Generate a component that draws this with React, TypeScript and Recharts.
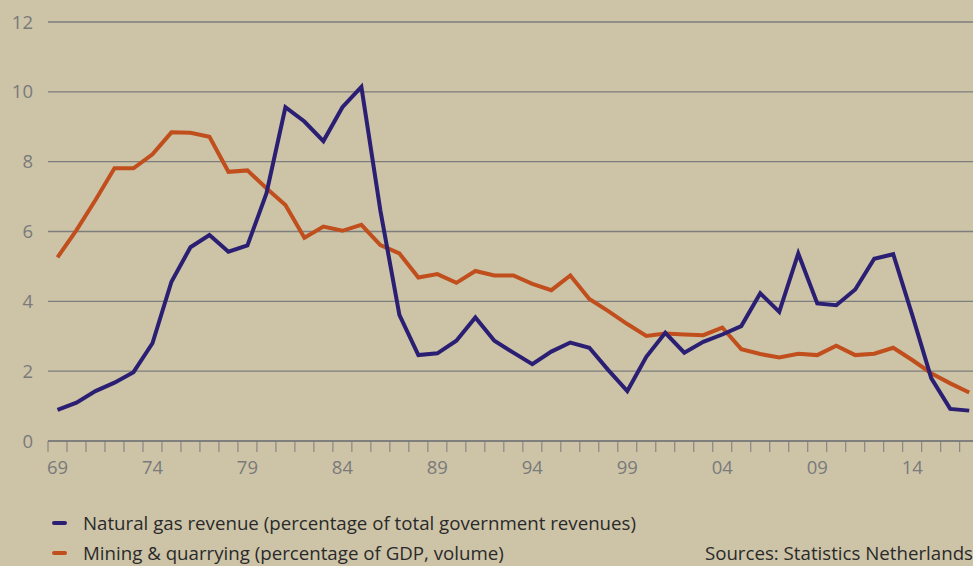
import { CartesianGrid, Line, LineChart, XAxis, YAxis } from "recharts";

// years 1969 - 2017
const years = [
  1969, 1970, 1971, 1972, 1973, 1974, 1975, 1976, 1977, 1978, 1979, 1980,
  1981, 1982, 1983, 1984, 1985, 1986, 1987, 1988, 1989, 1990, 1991, 1992,
  1993, 1994, 1995, 1996, 1997, 1998, 1999, 2000, 2001, 2002, 2003, 2004,
  2005, 2006, 2007, 2008, 2009, 2010, 2011, 2012, 2013, 2014, 2015, 2016,
  2017,
];

const gasRevenue = [
  0.89, 1.1, 1.43, 1.67, 1.97, 2.8, 4.56, 5.55, 5.9, 5.42, 5.6, 7.09,
  9.56, 9.15, 8.59, 9.56, 10.14, 6.6, 3.61, 2.46, 2.51, 2.87, 3.54, 2.87,
  2.53, 2.2, 2.56, 2.82, 2.67, 2.03, 1.43, 2.41, 3.1, 2.53, 2.84, 3.05,
  3.29, 4.23, 3.7, 5.37, 3.94, 3.89, 4.34, 5.22, 5.35, 3.61, 1.8, 0.92,
  0.87,
];

const mining = [
  5.26, 6.04, 6.9, 7.81, 7.81, 8.21, 8.84, 8.83, 8.71, 7.71, 7.75, 7.24,
  6.76, 5.82, 6.14, 6.02, 6.19, 5.61, 5.37, 4.68, 4.78, 4.53, 4.87, 4.74,
  4.74, 4.5, 4.32, 4.74, 4.07, 3.72, 3.35, 3.01, 3.08, 3.05, 3.03, 3.25,
  2.63, 2.49, 2.39, 2.5, 2.46, 2.73, 2.46, 2.5, 2.67, 2.32, 1.94, 1.65,
  1.39,
];

const labelYears = [1969, 1974, 1979, 1984, 1989, 1994, 1999, 2004, 2009, 2014];
const yTicks = [0, 2, 4, 6, 8, 10, 12];

const seriesNames = {
  gas: "Natural gas revenue (percentage of total government revenues)",
  mining: "Mining & quarrying (percentage of GDP, volume)",
};
const source = "Sources: Statistics Netherlands";

const BLUE = "#2b1f73";
const ORANGE = "#c14e1d";
const BG = "#cdc4a8";
const FONT = "'Open Sans', sans-serif";

const data = years.map((year, i) => ({
  year,
  gas: gasRevenue[i],
  mining: mining[i],
}));

// tick marks sit between years, labels on the years
const markTicks = years.map((y) => y - 0.5);

function XTick(props: any) {
  const { x, y, payload } = props;
  const v = payload.value as number;
  if (!Number.isInteger(v)) {
    return <line x1={x} x2={x} y1={y} y2={y + 11} stroke="#7a7a7a" strokeWidth={1} />;
  }
  return (
    <text
      x={x}
      y={y + 26}
      dy="0.355em"
      textAnchor="middle"
      fill="#7a7a7a"
      fontSize={18.5}
      fontFamily={FONT}
    >
      {String(v).slice(2)}
    </text>
  );
}

function LegendRow({ color, label, top }: { color: string; label: string; top: number }) {
  return (
    <div style={{ position: "absolute", left: 52, top, display: "flex", alignItems: "center" }}>
      <span
        style={{
          display: "inline-block",
          width: 15,
          height: 4,
          borderRadius: 2,
          background: color,
          marginRight: 16,
        }}
      />
      <span style={{ fontFamily: FONT, fontSize: 18.7, color: "#2a2a2a", whiteSpace: "nowrap" }}>
        {label}
      </span>
    </div>
  );
}

export default function App() {
  return (
    <div
      style={{
        position: "fixed",
        left: 0,
        top: 0,
        width: 973,
        height: 566,
        overflow: "hidden",
        background: BG,
      }}
    >
      <LineChart
        width={973}
        height={490}
        data={data}
        margin={{ top: 22, right: 0, bottom: 0, left: 0 }}
      >
        <CartesianGrid vertical={false} stroke="#7d7d7d" strokeWidth={1.3} />
        <XAxis
          dataKey="year"
          type="number"
          domain={[1968.5, 2017.2]}
          allowDataOverflow
          ticks={[...markTicks, ...labelYears]}
          interval={0}
          tick={<XTick />}
          tickLine={false}
          tickSize={0}
          tickMargin={0}
          axisLine={{ stroke: "#7a7a7a", strokeWidth: 1.3 }}
          height={49}
        />
        <YAxis
          width={48}
          domain={[0, 12]}
          ticks={yTicks}
          axisLine={false}
          tickLine={false}
          tickSize={0}
          tickMargin={15}
          tick={{ fill: "#7a7a7a", fontSize: 18.5, fontFamily: FONT }}
        />
        <Line
          dataKey="mining"
          stroke={ORANGE}
          strokeWidth={4}
          dot={false}
          type="linear"
          isAnimationActive={false}
        />
        <Line
          dataKey="gas"
          stroke={BLUE}
          strokeWidth={4}
          dot={false}
          type="linear"
          isAnimationActive={false}
        />
      </LineChart>
      <LegendRow color={BLUE} label={seriesNames.gas} top={510} />
      <LegendRow color={ORANGE} label={seriesNames.mining} top={540} />
      <div
        style={{
          position: "absolute",
          right: 0,
          top: 540,
          fontFamily: FONT,
          fontSize: 18.7,
          color: "#2a2a2a",
          whiteSpace: "nowrap",
        }}
      >
        {source}
      </div>
    </div>
  );
}
